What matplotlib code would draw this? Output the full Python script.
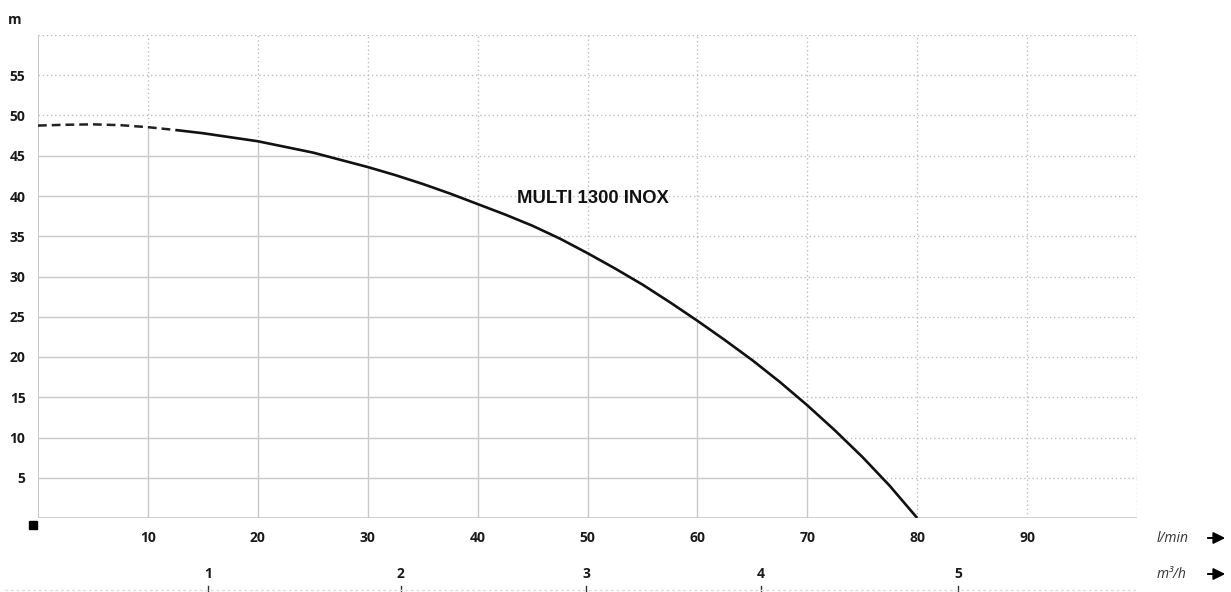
import numpy as np
import matplotlib
matplotlib.use("Agg")
import matplotlib.pyplot as plt
from matplotlib.transforms import blended_transform_factory

# ---- data ----
flow_lmin = [0, 2.5, 5, 7.5, 10, 12.5, 15, 17.5, 20, 22.5, 25, 27.5, 30, 32.5, 35, 37.5,
             40, 42.5, 45, 47.5, 50, 52.5, 55, 57.5, 60, 62.5, 65, 67.5, 70, 72.5, 75, 77.5, 80]
head_m = [48.75, 48.85, 48.9, 48.8, 48.55, 48.2, 47.8, 47.3, 46.8, 46.1, 45.4, 44.5, 43.6, 42.6, 41.5, 40.3,
          39.0, 37.7, 36.3, 34.7, 32.9, 31.0, 29.0, 26.8, 24.5, 22.1, 19.6, 16.9, 14.0, 10.9, 7.6, 4.0, 0.0]
dashed_until = 12.5  # l/min, curve drawn dashed below this flow

x_ticks = [10, 20, 30, 40, 50, 60, 70, 80, 90]
y_ticks = [5, 10, 15, 20, 25, 30, 35, 40, 45, 50, 55]
x_grid = [10, 20, 30, 40, 50, 60, 70, 80, 90, 100]
y_grid = [5, 10, 15, 20, 25, 30, 35, 40, 45, 50, 55, 60]
m3h_labels = ["1", "2", "3", "4", "5"]
m3h_pos_lmin = [15.5, 33.0, 49.9, 65.8, 83.7]
curve_label = "MULTI 1300 INOX"

W, H = 1231, 592
fig = plt.figure(figsize=(W / 100, H / 100), dpi=100)
ax = fig.add_axes([38 / W, (H - 518) / H, 1099 / W, 483 / H])
ax.set_xlim(0, 100)
ax.set_ylim(0, 60)
for s in ax.spines.values():
    s.set_visible(False)

solid_c = "#c8c8c8"
dot_c = "#bdbdbd"
fx = np.array(flow_lmin, dtype=float)
fy = np.array(head_m, dtype=float)

def head_at(q):
    return np.interp(q, fx, fy)

idx = np.argmax(fy)

def flow_at(h):
    xs = fx[idx:][::-1]
    ys = fy[idx:][::-1]
    return np.interp(h, ys, xs)

# horizontal grid: solid below the curve, dotted above
for yv in y_grid:
    if yv < fy.max():
        xc = flow_at(yv)
        ax.plot([0, xc], [yv, yv], color=solid_c, lw=1.0, zorder=1)
        ax.plot([xc, 100], [yv, yv], color=dot_c, lw=1.0, ls=(0, (1, 2)), zorder=1)
    else:
        ax.plot([0, 100], [yv, yv], color=dot_c, lw=1.0, ls=(0, (1, 2)), zorder=1)
# vertical grid
for xv in x_grid:
    yc = head_at(xv) if xv <= fx.max() else 0
    if yc > 0:
        ax.plot([xv, xv], [0, yc], color=solid_c, lw=1.0, zorder=1)
    ax.plot([xv, xv], [yc, 60], color=dot_c, lw=1.0, ls=(0, (1, 2)), zorder=1)
# axes lines
ax.plot([0, 0], [0, 60], color=solid_c, lw=1.4, zorder=1)
ax.plot([0, 100], [0, 0], color=solid_c, lw=1.2, zorder=1)

# curve
mask_d = fx <= dashed_until
ax.plot(fx[mask_d], fy[mask_d], color="#222222", lw=1.8, ls=(0, (3.5, 2)), zorder=3)
mask_s = fx >= dashed_until
ax.plot(fx[mask_s], fy[mask_s], color="#111111", lw=1.9, zorder=3, solid_capstyle="butt",
        solid_joinstyle="round")

ax.text(43.6, 39.7, curve_label, fontsize=13.3, fontweight="bold",
        family=["Liberation Sans", "DejaVu Sans"], color="#111111",
        ha="left", va="center", zorder=4)

tick_font = dict(family=["Open Sans", "DejaVu Sans"], fontweight="bold", fontsize=10, color="#1a1a1a")
ax.set_xticks(x_ticks)
ax.set_xticklabels([str(v) for v in x_ticks], **tick_font)
ax.set_yticks(y_ticks)
ax.set_yticklabels([str(v) for v in y_ticks], **tick_font)
ax.tick_params(axis="x", length=0, pad=9)
ax.tick_params(axis="y", length=0, pad=9)

# unit labels
fig.text(15 / W, 1 - 20 / H, "m", ha="center", va="center", **tick_font)
unit_font = dict(family=["Open Sans", "DejaVu Sans"], style="italic", fontsize=10, color="#333333")
fig.text(1173 / W, 1 - 538 / H, "l/min", ha="center", va="center", **unit_font)
fig.text(1172 / W, 1 - 574 / H, "m³/h", ha="center", va="center", **unit_font)
for yy in (538, 574):
    fig.add_artist(matplotlib.patches.FancyArrowPatch(
        (1205 / W, 1 - yy / H), (1228 / W, 1 - yy / H), transform=fig.transFigure,
        arrowstyle="-|>,head_length=7,head_width=3.5", color="black", lw=1.4, mutation_scale=1))

# secondary (m3/h) scale below
trans = blended_transform_factory(ax.transData, fig.transFigure)
for lab, pos in zip(m3h_labels, m3h_pos_lmin):
    ax.text(pos, 1 - 574 / H, lab, transform=trans, ha="center", va="center",
            clip_on=False, **tick_font)
    ax.plot([pos, pos], [1 - 586 / H, 0], transform=trans, color="#333333", lw=1.0, clip_on=False)
ax.plot([-3, 100], [1 - 590 / H, 1 - 590 / H], transform=trans, color="#dddddd", lw=1.0,
        ls=(0, (2, 2)), clip_on=False)

# origin square marker
fig.add_artist(matplotlib.patches.Rectangle((29 / W, 1 - 529 / H), 8 / W, 8 / H,
               transform=fig.transFigure, color="black"))

fig.savefig("out.png", dpi=100)
